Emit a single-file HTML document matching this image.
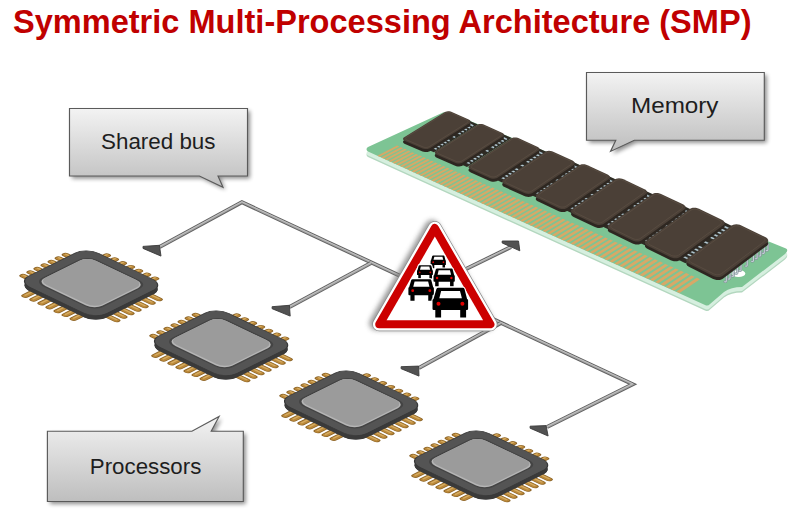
<!DOCTYPE html>
<html><head><meta charset="utf-8"><style>
html,body{margin:0;padding:0;background:#fff;width:796px;height:520px;overflow:hidden}
svg{position:absolute;left:0;top:0}
.title{font-family:"Liberation Sans",sans-serif;font-weight:bold;fill:#c00000;font-size:32.5px}
.ct{font-family:"Liberation Sans",sans-serif;fill:#1e1e1e;font-size:21.5px}
</style></head><body>
<svg width="796" height="520" viewBox="0 0 796 520">
<defs>
<linearGradient id="cg" x1="0" y1="0" x2="0" y2="1"><stop offset="0" stop-color="#f3f3f3"/><stop offset="1" stop-color="#bebebe"/></linearGradient>
<filter id="shadow" x="-20%" y="-20%" width="140%" height="160%"><feGaussianBlur stdDeviation="2"/></filter>
<filter id="blur3" x="-20%" y="-20%" width="140%" height="140%"><feGaussianBlur stdDeviation="2.5"/></filter>
<g id="cpu">
<g transform="translate(0,4)"><g transform="matrix(0.782,0.373,0.686,-0.340,17.7,281.55)" stroke-linecap="round"><g stroke="#8a6226" stroke-width="7.6"><line x1="2" y1="18.5" x2="-9" y2="18.5"/><line x1="18.5" y1="98" x2="18.5" y2="109"/><line x1="2" y1="28.8" x2="-9" y2="28.8"/><line x1="28.8" y1="98" x2="28.8" y2="109"/><line x1="2" y1="39.1" x2="-9" y2="39.1"/><line x1="39.1" y1="98" x2="39.1" y2="109"/><line x1="2" y1="49.400000000000006" x2="-9" y2="49.400000000000006"/><line x1="49.400000000000006" y1="98" x2="49.400000000000006" y2="109"/><line x1="2" y1="59.7" x2="-9" y2="59.7"/><line x1="59.7" y1="98" x2="59.7" y2="109"/><line x1="2" y1="70.0" x2="-9" y2="70.0"/><line x1="70.0" y1="98" x2="70.0" y2="109"/><line x1="2" y1="80.30000000000001" x2="-9" y2="80.30000000000001"/><line x1="80.30000000000001" y1="98" x2="80.30000000000001" y2="109"/></g><g stroke="#bb893a" stroke-width="5.4"><line x1="2" y1="18.5" x2="-9" y2="18.5"/><line x1="18.5" y1="98" x2="18.5" y2="109"/><line x1="2" y1="28.8" x2="-9" y2="28.8"/><line x1="28.8" y1="98" x2="28.8" y2="109"/><line x1="2" y1="39.1" x2="-9" y2="39.1"/><line x1="39.1" y1="98" x2="39.1" y2="109"/><line x1="2" y1="49.400000000000006" x2="-9" y2="49.400000000000006"/><line x1="49.400000000000006" y1="98" x2="49.400000000000006" y2="109"/><line x1="2" y1="59.7" x2="-9" y2="59.7"/><line x1="59.7" y1="98" x2="59.7" y2="109"/><line x1="2" y1="70.0" x2="-9" y2="70.0"/><line x1="70.0" y1="98" x2="70.0" y2="109"/><line x1="2" y1="80.30000000000001" x2="-9" y2="80.30000000000001"/><line x1="80.30000000000001" y1="98" x2="80.30000000000001" y2="109"/></g></g><g transform="translate(0,-0.7)"><g transform="matrix(0.782,0.373,0.686,-0.340,17.7,281.55)" stroke-linecap="round" stroke="#d6ac62" stroke-width="2"><line x1="2" y1="18.5" x2="-9" y2="18.5"/><line x1="18.5" y1="98" x2="18.5" y2="109"/><line x1="2" y1="28.8" x2="-9" y2="28.8"/><line x1="28.8" y1="98" x2="28.8" y2="109"/><line x1="2" y1="39.1" x2="-9" y2="39.1"/><line x1="39.1" y1="98" x2="39.1" y2="109"/><line x1="2" y1="49.400000000000006" x2="-9" y2="49.400000000000006"/><line x1="49.400000000000006" y1="98" x2="49.400000000000006" y2="109"/><line x1="2" y1="59.7" x2="-9" y2="59.7"/><line x1="59.7" y1="98" x2="59.7" y2="109"/><line x1="2" y1="70.0" x2="-9" y2="70.0"/><line x1="70.0" y1="98" x2="70.0" y2="109"/><line x1="2" y1="80.30000000000001" x2="-9" y2="80.30000000000001"/><line x1="80.30000000000001" y1="98" x2="80.30000000000001" y2="109"/></g></g></g>
<g transform="translate(0,4)"><g transform="matrix(0.782,0.373,0.686,-0.340,17.7,281.55)" fill="#383838"><rect x="0" y="0" width="100" height="100" rx="16"/></g></g>
<g transform="translate(0,4)"><g transform="matrix(0.782,0.373,0.686,-0.340,17.7,281.55)" stroke-linecap="round"><g stroke="#8a6226" stroke-width="7.6"><line x1="18.5" y1="2" x2="18.5" y2="-10"/><line x1="98" y1="18.5" x2="110" y2="18.5"/><line x1="28.8" y1="2" x2="28.8" y2="-10"/><line x1="98" y1="28.8" x2="110" y2="28.8"/><line x1="39.1" y1="2" x2="39.1" y2="-10"/><line x1="98" y1="39.1" x2="110" y2="39.1"/><line x1="49.400000000000006" y1="2" x2="49.400000000000006" y2="-10"/><line x1="98" y1="49.400000000000006" x2="110" y2="49.400000000000006"/><line x1="59.7" y1="2" x2="59.7" y2="-10"/><line x1="98" y1="59.7" x2="110" y2="59.7"/><line x1="70.0" y1="2" x2="70.0" y2="-10"/><line x1="98" y1="70.0" x2="110" y2="70.0"/><line x1="80.30000000000001" y1="2" x2="80.30000000000001" y2="-10"/><line x1="98" y1="80.30000000000001" x2="110" y2="80.30000000000001"/></g><g stroke="#bb893a" stroke-width="5.4"><line x1="18.5" y1="2" x2="18.5" y2="-10"/><line x1="98" y1="18.5" x2="110" y2="18.5"/><line x1="28.8" y1="2" x2="28.8" y2="-10"/><line x1="98" y1="28.8" x2="110" y2="28.8"/><line x1="39.1" y1="2" x2="39.1" y2="-10"/><line x1="98" y1="39.1" x2="110" y2="39.1"/><line x1="49.400000000000006" y1="2" x2="49.400000000000006" y2="-10"/><line x1="98" y1="49.400000000000006" x2="110" y2="49.400000000000006"/><line x1="59.7" y1="2" x2="59.7" y2="-10"/><line x1="98" y1="59.7" x2="110" y2="59.7"/><line x1="70.0" y1="2" x2="70.0" y2="-10"/><line x1="98" y1="70.0" x2="110" y2="70.0"/><line x1="80.30000000000001" y1="2" x2="80.30000000000001" y2="-10"/><line x1="98" y1="80.30000000000001" x2="110" y2="80.30000000000001"/></g></g><g transform="translate(0,-0.7)"><g transform="matrix(0.782,0.373,0.686,-0.340,17.7,281.55)" stroke-linecap="round" stroke="#d6ac62" stroke-width="2"><line x1="18.5" y1="2" x2="18.5" y2="-10"/><line x1="98" y1="18.5" x2="110" y2="18.5"/><line x1="28.8" y1="2" x2="28.8" y2="-10"/><line x1="98" y1="28.8" x2="110" y2="28.8"/><line x1="39.1" y1="2" x2="39.1" y2="-10"/><line x1="98" y1="39.1" x2="110" y2="39.1"/><line x1="49.400000000000006" y1="2" x2="49.400000000000006" y2="-10"/><line x1="98" y1="49.400000000000006" x2="110" y2="49.400000000000006"/><line x1="59.7" y1="2" x2="59.7" y2="-10"/><line x1="98" y1="59.7" x2="110" y2="59.7"/><line x1="70.0" y1="2" x2="70.0" y2="-10"/><line x1="98" y1="70.0" x2="110" y2="70.0"/><line x1="80.30000000000001" y1="2" x2="80.30000000000001" y2="-10"/><line x1="98" y1="80.30000000000001" x2="110" y2="80.30000000000001"/></g></g></g>
<g transform="translate(0,4)"><g transform="matrix(0.782,0.373,0.686,-0.340,17.7,281.55)" fill="#3a3a3a"><rect x="0" y="0" width="100" height="100" rx="16"/></g></g>
<g transform="matrix(0.782,0.373,0.686,-0.340,17.7,281.55)"><g fill="#545454" stroke="#383838" stroke-width="1.2"><rect x="0" y="0" width="100" height="100" rx="16"/></g><g fill="#444"><rect x="11" y="11" width="78" height="78" rx="12"/></g><g fill="#b5b5b5"><rect x="13" y="13" width="74" height="74" rx="11"/></g><g fill="#9b9b9b"><rect x="13" y="15.5" width="72" height="71.5" rx="10.5"/></g></g>
</g>
</defs>
<text x="13" y="33.2" textLength="738.5" lengthAdjust="spacingAndGlyphs" class="title">Symmetric Multi-Processing Architecture (SMP)</text>
<path d="M368,147 Q365,149 368,151.5 L705,305 Q708,306.5 710,304 L724,292 Q731,287 742,287 L785,254 Q789,250 786,248.5 L449,112.5 Q446,111.5 443,112.5 Z" transform="translate(0,5.5)" fill="#b3d7bf"/>
<path d="M368,147 Q365,149 368,151.5 L705,305 Q708,306.5 710,304 L724,292 Q731,287 742,287 L785,254 Q789,250 786,248.5 L449,112.5 Q446,111.5 443,112.5 Z" transform="translate(0,4)" fill="#d6efdf"/>
<path d="M368,147 Q365,149 368,151.5 L705,305 Q708,306.5 710,304 L724,292 Q731,287 742,287 L785,254 Q789,250 786,248.5 L449,112.5 Q446,111.5 443,112.5 Z" fill="#7dc494"/>
<path d="M377.32,155.79 L379.53,156.79 L399.32,146.52 L397.11,145.55Z" fill="#d8a867"/>
<path d="M381.06,157.49 L383.27,158.49 L403.08,148.18 L400.86,147.2Z" fill="#d8a867"/>
<path d="M384.81,159.19 L387.03,160.2 L406.85,149.85 L404.62,148.86Z" fill="#d8a867"/>
<path d="M388.58,160.9 L390.81,161.92 L410.65,151.52 L408.41,150.53Z" fill="#d8a867"/>
<path d="M392.36,162.62 L394.61,163.64 L414.46,153.2 L412.21,152.21Z" fill="#d8a867"/>
<path d="M396.17,164.35 L398.43,165.37 L418.29,154.9 L416.03,153.9Z" fill="#d8a867"/>
<path d="M400,166.09 L402.27,167.12 L422.14,156.6 L419.87,155.59Z" fill="#d8a867"/>
<path d="M403.84,167.83 L406.12,168.87 L426.01,158.3 L423.73,157.29Z" fill="#d8a867"/>
<path d="M407.71,169.59 L410,170.63 L429.9,160.02 L427.6,159.01Z" fill="#d8a867"/>
<path d="M411.59,171.35 L413.89,172.4 L433.81,161.75 L431.5,160.73Z" fill="#d8a867"/>
<path d="M415.5,173.12 L417.81,174.17 L437.74,163.48 L435.42,162.46Z" fill="#d8a867"/>
<path d="M419.42,174.9 L421.75,175.96 L441.69,165.22 L439.36,164.19Z" fill="#d8a867"/>
<path d="M423.36,176.69 L425.7,177.76 L445.66,166.97 L443.31,165.94Z" fill="#d8a867"/>
<path d="M427.33,178.49 L429.68,179.56 L449.65,168.74 L447.29,167.69Z" fill="#d8a867"/>
<path d="M431.31,180.3 L433.68,181.38 L453.66,170.5 L451.29,169.46Z" fill="#d8a867"/>
<path d="M435.32,182.12 L437.69,183.2 L457.69,172.28 L455.31,171.23Z" fill="#d8a867"/>
<path d="M439.34,183.95 L441.73,185.03 L461.74,174.07 L459.34,173.01Z" fill="#d8a867"/>
<path d="M443.39,185.79 L445.79,186.88 L465.81,175.87 L463.4,174.81Z" fill="#d8a867"/>
<path d="M447.46,187.63 L449.87,188.73 L469.9,177.67 L467.48,176.61Z" fill="#d8a867"/>
<path d="M451.55,189.49 L453.97,190.59 L474.01,179.49 L471.58,178.42Z" fill="#d8a867"/>
<path d="M455.66,191.36 L458.09,192.46 L478.15,181.31 L475.7,180.24Z" fill="#d8a867"/>
<path d="M459.79,193.23 L462.24,194.34 L482.3,183.15 L479.85,182.06Z" fill="#d8a867"/>
<path d="M463.94,195.12 L466.41,196.24 L486.48,184.99 L484.01,183.9Z" fill="#d8a867"/>
<path d="M468.12,197.01 L470.59,198.14 L490.68,186.85 L488.2,185.75Z" fill="#d8a867"/>
<path d="M472.32,198.92 L474.8,200.05 L494.9,188.71 L492.41,187.61Z" fill="#d8a867"/>
<path d="M476.53,200.83 L479.04,201.97 L499.15,190.58 L496.64,189.47Z" fill="#d8a867"/>
<path d="M480.78,202.76 L483.29,203.9 L503.41,192.46 L500.89,191.35Z" fill="#d8a867"/>
<path d="M485.04,204.7 L487.57,205.84 L507.7,194.36 L505.17,193.24Z" fill="#d8a867"/>
<path d="M489.33,206.64 L491.87,207.8 L512.01,196.26 L509.46,195.14Z" fill="#d8a867"/>
<path d="M493.64,208.6 L496.19,209.76 L516.34,198.17 L513.78,197.04Z" fill="#d8a867"/>
<path d="M497.97,210.57 L500.54,211.73 L520.7,200.1 L518.13,198.96Z" fill="#d8a867"/>
<path d="M502.33,212.54 L504.91,213.72 L525.08,202.03 L522.49,200.89Z" fill="#d8a867"/>
<path d="M506.71,214.53 L509.3,215.71 L529.48,203.97 L526.88,202.82Z" fill="#d8a867"/>
<path d="M511.11,216.53 L513.72,217.72 L533.91,205.93 L531.29,204.77Z" fill="#d8a867"/>
<path d="M515.54,218.54 L518.16,219.73 L538.36,207.89 L535.73,206.73Z" fill="#d8a867"/>
<path d="M519.99,220.56 L522.63,221.76 L542.84,209.87 L540.19,208.7Z" fill="#d8a867"/>
<path d="M524.46,222.6 L527.12,223.8 L547.34,211.85 L544.68,210.68Z" fill="#d8a867"/>
<path d="M528.96,224.64 L531.63,225.85 L551.86,213.85 L549.18,212.67Z" fill="#d8a867"/>
<path d="M533.49,226.69 L536.17,227.91 L556.41,215.85 L553.72,214.67Z" fill="#d8a867"/>
<path d="M538.04,228.76 L540.74,229.98 L560.98,217.87 L558.28,216.68Z" fill="#d8a867"/>
<path d="M542.61,230.83 L545.33,232.07 L565.58,219.9 L562.86,218.7Z" fill="#d8a867"/>
<path d="M547.21,232.92 L549.94,234.16 L570.2,221.94 L567.47,220.74Z" fill="#d8a867"/>
<path d="M551.84,235.02 L554.58,236.27 L574.85,223.99 L572.1,222.78Z" fill="#d8a867"/>
<path d="M556.49,237.13 L559.25,238.39 L579.52,226.06 L576.76,224.84Z" fill="#d8a867"/>
<path d="M561.17,239.26 L563.94,240.52 L584.22,228.13 L581.44,226.9Z" fill="#d8a867"/>
<path d="M565.87,241.39 L568.66,242.66 L588.94,230.22 L586.15,228.98Z" fill="#d8a867"/>
<path d="M570.6,243.54 L573.4,244.81 L593.7,232.31 L590.89,231.07Z" fill="#d8a867"/>
<path d="M575.35,245.7 L578.17,246.98 L598.47,234.42 L595.65,233.17Z" fill="#d8a867"/>
<path d="M580.14,247.87 L582.97,249.16 L603.28,236.54 L600.44,235.29Z" fill="#d8a867"/>
<path d="M584.95,250.05 L587.8,251.35 L608.11,238.67 L605.25,237.41Z" fill="#d8a867"/>
<path d="M589.78,252.25 L592.65,253.55 L612.97,240.82 L610.1,239.55Z" fill="#d8a867"/>
<path d="M594.65,254.46 L597.53,255.77 L617.85,242.98 L614.96,241.7Z" fill="#d8a867"/>
<path d="M599.54,256.68 L602.44,258 L622.77,245.14 L619.86,243.86Z" fill="#d8a867"/>
<path d="M604.46,258.91 L607.38,260.24 L627.71,247.32 L624.79,246.04Z" fill="#d8a867"/>
<path d="M609.41,261.16 L612.34,262.49 L632.68,249.52 L629.74,248.22Z" fill="#d8a867"/>
<path d="M614.38,263.42 L617.33,264.76 L637.67,251.72 L634.72,250.42Z" fill="#d8a867"/>
<path d="M619.39,265.69 L622.36,267.04 L642.7,253.94 L639.73,252.63Z" fill="#d8a867"/>
<path d="M624.42,267.98 L627.41,269.33 L647.75,256.17 L644.77,254.85Z" fill="#d8a867"/>
<path d="M629.48,270.27 L632.49,271.64 L652.84,258.42 L649.83,257.09Z" fill="#d8a867"/>
<path d="M634.58,272.59 L637.6,273.96 L657.95,260.67 L654.93,259.34Z" fill="#d8a867"/>
<path d="M639.7,274.91 L642.74,276.29 L663.09,262.94 L660.05,261.6Z" fill="#d8a867"/>
<path d="M644.85,277.25 L647.91,278.64 L668.27,265.23 L665.21,263.88Z" fill="#d8a867"/>
<path d="M650.03,279.6 L653.11,281 L673.47,267.52 L670.39,266.16Z" fill="#d8a867"/>
<path d="M655.24,281.97 L658.34,283.37 L678.7,269.83 L675.61,268.47Z" fill="#d8a867"/>
<path d="M660.49,284.35 L663.6,285.76 L683.96,272.15 L680.85,270.78Z" fill="#d8a867"/>
<path d="M665.76,286.74 L668.89,288.17 L689.26,274.49 L686.13,273.11Z" fill="#d8a867"/>
<path d="M671.07,289.15 L674.21,290.58 L694.58,276.84 L691.43,275.45Z" fill="#d8a867"/>
<path d="M676.4,291.58 L679.57,293.01 L699.94,279.2 L696.77,277.81Z" fill="#d8a867"/>
<ellipse cx="738.5" cy="273.5" rx="6.8" ry="3.6" fill="#fff"/>
<path d="M424.98,148.52 L469.24,120.68 L477.84,124.49 L433.91,152.33Z" fill="#2e2b24"/>
<path d="M432.78,147.38 L436.09,148.79 M436.05,145.32 L439.35,146.73 M439.31,143.26 L442.6,144.67 M442.56,141.21 L445.84,142.62 M445.8,139.17 L449.07,140.58 M451.33,135.68 L454.58,137.09 M456.83,132.21 L460.06,133.62 M460.02,130.2 L463.25,131.61 M463.2,128.19 L466.42,129.6 M466.37,126.19 L469.58,127.6 M469.53,124.19 L472.73,125.61" stroke="#56646a" stroke-width="2.1" stroke-linecap="round"/>
<path d="M432.78,147.38 L436.09,148.79 M436.05,145.32 L439.35,146.73 M439.31,143.26 L442.6,144.67 M442.56,141.21 L445.84,142.62 M445.8,139.17 L449.07,140.58 M451.33,135.68 L454.58,137.09 M456.83,132.21 L460.06,133.62 M460.02,130.2 L463.25,131.61 M463.2,128.19 L466.42,129.6 M466.37,126.19 L469.58,127.6 M469.53,124.19 L472.73,125.61" stroke="#b6c9d0" stroke-width="1.3" stroke-linecap="round"/>
<path d="M468.66,122.45 L469.57,122.97 L470.21,123.59 L470.52,124.27 L470.5,124.96 L470.13,125.61 L469.45,126.19 L429.89,151.13 L428.9,151.6 L427.7,151.93 L426.37,152.08 L425,152.05 L423.68,151.83 L422.5,151.45 L404.96,143.97 L404,143.44 L403.33,142.81 L403,142.11 L403.04,141.4 L403.43,140.72 L404.16,140.13 L444.58,115.19 L445.55,114.73 L446.73,114.43 L448.03,114.3 L449.37,114.35 L450.65,114.58 L451.8,114.97Z" fill="#2e2721"/>
<path d="M468.66,119.45 L469.57,119.97 L470.21,120.59 L470.52,121.27 L470.5,121.96 L470.13,122.61 L469.45,123.19 L429.89,148.13 L428.9,148.6 L427.7,148.93 L426.37,149.08 L425,149.05 L423.68,148.83 L422.5,148.45 L404.96,140.97 L404,140.44 L403.33,139.81 L403,139.11 L403.04,138.4 L403.43,137.72 L404.16,137.13 L444.58,112.19 L445.55,111.73 L446.73,111.43 L448.03,111.3 L449.37,111.35 L450.65,111.58 L451.8,111.97Z" fill="#4b4037"/>
<path d="M466.55,119.72 L467.28,120.15 L467.79,120.66 L468.02,121.23 L467.97,121.81 L467.64,122.36 L467.04,122.85 L429.28,146.62 L428.44,147.03 L427.42,147.32 L426.31,147.46 L425.17,147.45 L424.09,147.29 L423.13,146.98 L407.15,140.16 L406.38,139.72 L405.85,139.2 L405.61,138.62 L405.67,138.02 L406.03,137.45 L406.66,136.94 L445.14,113.17 L445.97,112.77 L446.96,112.51 L448.05,112.38 L449.16,112.41 L450.22,112.59 L451.15,112.9Z" fill="none" stroke="#5a4e43" stroke-width="0.8"/>
<path d="M457.67,162.84 L502.56,133.92 L511.58,137.98 L466.98,166.91Z" fill="#2e2b24"/>
<path d="M465.68,161.7 L469.13,163.22 M468.99,159.56 L472.43,161.07 M472.3,157.43 L475.73,158.94 M475.59,155.3 L479.02,156.81 M478.88,153.18 L482.29,154.69 M484.49,149.56 L487.89,151.07 M490.07,145.95 L493.45,147.46 M493.31,143.86 L496.69,145.37 M496.54,141.77 L499.91,143.28 M499.76,139.69 L503.12,141.2 M502.97,137.62 L506.33,139.12" stroke="#56646a" stroke-width="2.1" stroke-linecap="round"/>
<path d="M465.68,161.7 L469.13,163.22 M468.99,159.56 L472.43,161.07 M472.3,157.43 L475.73,158.94 M475.59,155.3 L479.02,156.81 M478.88,153.18 L482.29,154.69 M484.49,149.56 L487.89,151.07 M490.07,145.95 L493.45,147.46 M493.31,143.86 L496.69,145.37 M496.54,141.77 L499.91,143.28 M499.76,139.69 L503.12,141.2 M502.97,137.62 L506.33,139.12" stroke="#b6c9d0" stroke-width="1.3" stroke-linecap="round"/>
<path d="M501.93,135.64 L502.89,136.19 L503.56,136.84 L503.91,137.56 L503.9,138.28 L503.54,138.96 L502.85,139.56 L462.72,165.47 L461.71,165.96 L460.48,166.29 L459.11,166.44 L457.7,166.4 L456.33,166.16 L455.11,165.75 L436.87,157.78 L435.87,157.21 L435.17,156.54 L434.81,155.81 L434.83,155.07 L435.22,154.36 L435.95,153.74 L476.85,127.88 L477.84,127.41 L479.04,127.1 L480.38,126.98 L481.76,127.04 L483.1,127.28 L484.29,127.7Z" fill="#2e2721"/>
<path d="M501.93,132.64 L502.89,133.19 L503.56,133.84 L503.91,134.56 L503.9,135.28 L503.54,135.96 L502.85,136.56 L462.72,162.47 L461.71,162.96 L460.48,163.29 L459.11,163.44 L457.7,163.4 L456.33,163.16 L455.11,162.75 L436.87,154.78 L435.87,154.21 L435.17,153.54 L434.81,152.81 L434.83,152.07 L435.22,151.36 L435.95,150.74 L476.85,124.88 L477.84,124.41 L479.04,124.1 L480.38,123.98 L481.76,124.04 L483.1,124.28 L484.29,124.7Z" fill="#4b4037"/>
<path d="M499.75,132.91 L500.52,133.36 L501.06,133.9 L501.32,134.5 L501.28,135.1 L500.96,135.68 L500.36,136.19 L462.04,160.88 L461.19,161.31 L460.15,161.6 L459.01,161.74 L457.84,161.72 L456.72,161.54 L455.72,161.21 L439.1,153.94 L438.3,153.48 L437.74,152.92 L437.48,152.31 L437.52,151.69 L437.87,151.09 L438.51,150.56 L477.46,125.91 L478.3,125.51 L479.31,125.23 L480.43,125.11 L481.58,125.14 L482.67,125.34 L483.65,125.67Z" fill="none" stroke="#5a4e43" stroke-width="0.8"/>
<path d="M492.39,178.05 L537.96,148 L547.42,152.31 L502.11,182.4Z" fill="#2e2b24"/>
<path d="M500.62,176.92 L504.22,178.54 M503.98,174.7 L507.58,176.31 M507.34,172.48 L510.92,174.09 M510.68,170.27 L514.26,171.88 M514.01,168.06 L517.59,169.67 M519.71,164.3 L523.27,165.91 M525.37,160.55 L528.92,162.16 M528.67,158.37 L532.21,159.98 M531.95,156.2 L535.48,157.81 M535.22,154.04 L538.75,155.64 M538.49,151.88 L542.01,153.48" stroke="#56646a" stroke-width="2.1" stroke-linecap="round"/>
<path d="M500.62,176.92 L504.22,178.54 M503.98,174.7 L507.58,176.31 M507.34,172.48 L510.92,174.09 M510.68,170.27 L514.26,171.88 M514.01,168.06 L517.59,169.67 M519.71,164.3 L523.27,165.91 M525.37,160.55 L528.92,162.16 M528.67,158.37 L532.21,159.98 M531.95,156.2 L535.48,157.81 M535.22,154.04 L538.75,155.64 M538.49,151.88 L542.01,153.48" stroke="#b6c9d0" stroke-width="1.3" stroke-linecap="round"/>
<path d="M537.26,149.64 L538.27,150.23 L538.99,150.92 L539.37,151.67 L539.38,152.43 L539.03,153.14 L538.34,153.77 L497.58,180.7 L496.56,181.21 L495.3,181.55 L493.89,181.69 L492.43,181.63 L491.02,181.38 L489.75,180.94 L470.76,172.43 L469.72,171.84 L468.98,171.13 L468.6,170.36 L468.59,169.58 L468.97,168.84 L469.71,168.2 L511.12,141.37 L512.13,140.88 L513.36,140.57 L514.74,140.44 L516.17,140.51 L517.55,140.78 L518.79,141.22Z" fill="#2e2721"/>
<path d="M537.26,146.64 L538.27,147.23 L538.99,147.92 L539.37,148.67 L539.38,149.43 L539.03,150.14 L538.34,150.77 L497.58,177.7 L496.56,178.21 L495.3,178.55 L493.89,178.69 L492.43,178.63 L491.02,178.38 L489.75,177.94 L470.76,169.43 L469.72,168.84 L468.98,168.13 L468.6,167.36 L468.59,166.58 L468.97,165.84 L469.71,165.2 L511.12,138.37 L512.13,137.88 L513.36,137.57 L514.74,137.44 L516.17,137.51 L517.55,137.78 L518.79,138.22Z" fill="#4b4037"/>
<path d="M535.01,146.91 L535.83,147.39 L536.4,147.96 L536.69,148.59 L536.67,149.23 L536.34,149.83 L535.74,150.36 L496.85,176.03 L495.97,176.47 L494.92,176.77 L493.74,176.91 L492.53,176.87 L491.37,176.68 L490.33,176.32 L473.03,168.57 L472.19,168.08 L471.61,167.5 L471.32,166.86 L471.35,166.2 L471.7,165.58 L472.33,165.03 L511.78,139.45 L512.64,139.03 L513.67,138.75 L514.83,138.63 L516.01,138.67 L517.15,138.88 L518.16,139.23Z" fill="none" stroke="#5a4e43" stroke-width="0.8"/>
<path d="M527.01,193.21 L573.24,162.03 L583.15,166.6 L537.13,197.84Z" fill="#2e2b24"/>
<path d="M535.46,192.09 L539.21,193.81 M538.87,189.78 L542.61,191.5 M542.27,187.48 L546.01,189.2 M545.66,185.19 L549.4,186.9 M549.04,182.9 L552.77,184.62 M554.82,178.99 L558.54,180.7 M560.58,175.1 L564.29,176.81 M563.92,172.84 L567.62,174.55 M567.26,170.59 L570.95,172.29 M570.58,168.34 L574.27,170.04 M573.9,166.09 L577.59,167.8" stroke="#56646a" stroke-width="2.1" stroke-linecap="round"/>
<path d="M535.46,192.09 L539.21,193.81 M538.87,189.78 L542.61,191.5 M542.27,187.48 L546.01,189.2 M545.66,185.19 L549.4,186.9 M549.04,182.9 L552.77,184.62 M554.82,178.99 L558.54,180.7 M560.58,175.1 L564.29,176.81 M563.92,172.84 L567.62,174.55 M567.26,170.59 L570.95,172.29 M570.58,168.34 L574.27,170.04 M573.9,166.09 L577.59,167.8" stroke="#b6c9d0" stroke-width="1.3" stroke-linecap="round"/>
<path d="M572.49,163.6 L573.55,164.22 L574.31,164.95 L574.73,165.74 L574.76,166.53 L574.42,167.28 L573.71,167.93 L532.35,195.88 L531.3,196.41 L530.02,196.76 L528.57,196.9 L527.06,196.83 L525.6,196.55 L524.29,196.08 L504.55,187.05 L503.47,186.42 L502.69,185.68 L502.28,184.87 L502.26,184.05 L502.63,183.29 L503.37,182.62 L545.3,154.82 L546.32,154.31 L547.58,153.99 L549,153.86 L550.48,153.94 L551.91,154.23 L553.2,154.69Z" fill="#2e2721"/>
<path d="M572.49,160.6 L573.55,161.22 L574.31,161.95 L574.73,162.74 L574.76,163.53 L574.42,164.28 L573.71,164.93 L532.35,192.88 L531.3,193.41 L530.02,193.76 L528.57,193.9 L527.06,193.83 L525.6,193.55 L524.29,193.08 L504.55,184.05 L503.47,183.42 L502.69,182.68 L502.28,181.87 L502.26,181.05 L502.63,180.29 L503.37,179.62 L545.3,151.82 L546.32,151.31 L547.58,150.99 L549,150.86 L550.48,150.94 L551.91,151.23 L553.2,151.69Z" fill="#4b4037"/>
<path d="M570.17,160.88 L571.03,161.38 L571.64,161.98 L571.95,162.64 L571.94,163.31 L571.63,163.94 L571.02,164.49 L531.55,191.13 L530.66,191.58 L529.57,191.89 L528.37,192.03 L527.12,191.99 L525.92,191.77 L524.85,191.39 L506.87,183.16 L505.99,182.65 L505.38,182.03 L505.07,181.36 L505.08,180.68 L505.42,180.03 L506.06,179.46 L546,152.95 L546.87,152.52 L547.94,152.23 L549.12,152.1 L550.34,152.15 L551.52,152.37 L552.57,152.75Z" fill="none" stroke="#5a4e43" stroke-width="0.8"/>
<path d="M561.52,208.33 L608.43,176.01 L618.78,180.85 L572.05,213.24Z" fill="#2e2b24"/>
<path d="M570.19,207.22 L574.1,209.04 M573.65,204.83 L577.55,206.65 M577.1,202.45 L580.99,204.27 M580.54,200.07 L584.43,201.89 M583.97,197.7 L587.86,199.51 M589.84,193.65 L593.71,195.46 M595.68,189.62 L599.55,191.42 M599.07,187.27 L602.94,189.08 M602.46,184.93 L606.32,186.73 M605.84,182.6 L609.69,184.4 M609.21,180.27 L613.06,182.07" stroke="#56646a" stroke-width="2.1" stroke-linecap="round"/>
<path d="M570.19,207.22 L574.1,209.04 M573.65,204.83 L577.55,206.65 M577.1,202.45 L580.99,204.27 M580.54,200.07 L584.43,201.89 M583.97,197.7 L587.86,199.51 M589.84,193.65 L593.71,195.46 M595.68,189.62 L599.55,191.42 M599.07,187.27 L602.94,189.08 M602.46,184.93 L606.32,186.73 M605.84,182.6 L609.69,184.4 M609.21,180.27 L613.06,182.07" stroke="#b6c9d0" stroke-width="1.3" stroke-linecap="round"/>
<path d="M607.62,177.52 L608.73,178.18 L609.53,178.94 L609.98,179.77 L610.03,180.6 L609.7,181.38 L608.99,182.05 L567.01,211.02 L565.95,211.57 L564.63,211.92 L563.14,212.06 L561.59,211.98 L560.09,211.67 L558.72,211.17 L538.24,201.62 L537.12,200.96 L536.31,200.18 L535.87,199.33 L535.83,198.48 L536.19,197.69 L536.94,196.99 L579.37,168.23 L580.41,167.7 L581.71,167.37 L583.16,167.24 L584.68,167.34 L586.16,167.64 L587.5,168.13Z" fill="#2e2721"/>
<path d="M607.62,174.52 L608.73,175.18 L609.53,175.94 L609.98,176.77 L610.03,177.6 L609.7,178.38 L608.99,179.05 L567.01,208.02 L565.95,208.57 L564.63,208.92 L563.14,209.06 L561.59,208.98 L560.09,208.67 L558.72,208.17 L538.24,198.62 L537.12,197.96 L536.31,197.18 L535.87,196.33 L535.83,195.48 L536.19,194.69 L536.94,193.99 L579.37,165.23 L580.41,164.7 L581.71,164.37 L583.16,164.24 L584.68,164.34 L586.16,164.64 L587.5,165.13Z" fill="#4b4037"/>
<path d="M605.23,174.8 L606.13,175.33 L606.77,175.96 L607.11,176.65 L607.12,177.35 L606.81,178.01 L606.19,178.58 L566.14,206.19 L565.24,206.66 L564.13,206.97 L562.9,207.1 L561.61,207.05 L560.37,206.82 L559.26,206.41 L540.6,197.71 L539.69,197.17 L539.05,196.52 L538.71,195.82 L538.71,195.11 L539.05,194.44 L539.69,193.85 L580.12,166.41 L581.01,165.96 L582.1,165.66 L583.31,165.54 L584.57,165.6 L585.79,165.83 L586.88,166.23Z" fill="none" stroke="#5a4e43" stroke-width="0.8"/>
<path d="M597.76,224.21 L645.38,190.7 L656.2,195.81 L608.72,229.42Z" fill="#2e2b24"/>
<path d="M606.66,223.1 L610.73,225.03 M610.17,220.63 L614.23,222.56 M613.67,218.16 L617.73,220.08 M617.16,215.7 L621.22,217.62 M620.65,213.24 L624.7,215.16 M626.6,209.04 L630.65,210.96 M632.53,204.86 L636.57,206.77 M635.98,202.42 L640.02,204.33 M639.42,200 L643.45,201.9 M642.86,197.57 L646.88,199.48 M646.28,195.16 L650.31,197.06" stroke="#56646a" stroke-width="2.1" stroke-linecap="round"/>
<path d="M606.66,223.1 L610.73,225.03 M610.17,220.63 L614.23,222.56 M613.67,218.16 L617.73,220.08 M617.16,215.7 L621.22,217.62 M620.65,213.24 L624.7,215.16 M626.6,209.04 L630.65,210.96 M632.53,204.86 L636.57,206.77 M635.98,202.42 L640.02,204.33 M639.42,200 L643.45,201.9 M642.86,197.57 L646.88,199.48 M646.28,195.16 L650.31,197.06" stroke="#b6c9d0" stroke-width="1.3" stroke-linecap="round"/>
<path d="M644.5,192.14 L645.66,192.83 L646.51,193.63 L646.99,194.5 L647.07,195.37 L646.74,196.18 L646.02,196.88 L603.4,226.92 L602.32,227.48 L600.97,227.84 L599.45,227.98 L597.85,227.88 L596.29,227.56 L594.88,227.02 L573.62,216.92 L572.45,216.22 L571.6,215.41 L571.13,214.52 L571.07,213.64 L571.43,212.81 L572.18,212.09 L615.15,182.3 L616.21,181.77 L617.53,181.42 L619.03,181.3 L620.6,181.4 L622.13,181.72 L623.52,182.24Z" fill="#2e2721"/>
<path d="M644.5,189.14 L645.66,189.83 L646.51,190.63 L646.99,191.5 L647.07,192.37 L646.74,193.18 L646.02,193.88 L603.4,223.92 L602.32,224.48 L600.97,224.84 L599.45,224.98 L597.85,224.88 L596.29,224.56 L594.88,224.02 L573.62,213.92 L572.45,213.22 L571.6,212.41 L571.13,211.52 L571.07,210.64 L571.43,209.81 L572.18,209.09 L615.15,179.3 L616.21,178.77 L617.53,178.42 L619.03,178.3 L620.6,178.4 L622.13,178.72 L623.52,179.24Z" fill="#4b4037"/>
<path d="M642.04,189.42 L642.98,189.98 L643.66,190.64 L644.02,191.36 L644.05,192.09 L643.75,192.78 L643.13,193.38 L602.47,222 L601.55,222.48 L600.42,222.8 L599.15,222.93 L597.83,222.87 L596.54,222.62 L595.39,222.19 L576.02,212.99 L575.07,212.42 L574.4,211.74 L574.04,211.01 L574.03,210.26 L574.35,209.56 L575,208.95 L615.95,180.55 L616.85,180.08 L617.96,179.77 L619.21,179.65 L620.51,179.72 L621.77,179.97 L622.91,180.39Z" fill="none" stroke="#5a4e43" stroke-width="0.8"/>
<path d="M635.52,240.75 L683.87,206.01 L695.18,211.4 L646.93,246.27Z" fill="#2e2b24"/>
<path d="M644.67,239.65 L648.9,241.7 M648.23,237.09 L652.46,239.13 M651.78,234.53 L656.01,236.57 M655.32,231.98 L659.55,234.01 M658.86,229.43 L663.09,231.46 M664.91,225.08 L669.13,227.1 M670.94,220.74 L675.15,222.76 M674.44,218.21 L678.65,220.23 M677.94,215.69 L682.15,217.71 M681.43,213.18 L685.64,215.19 M684.92,210.67 L689.12,212.68" stroke="#56646a" stroke-width="2.1" stroke-linecap="round"/>
<path d="M644.67,239.65 L648.9,241.7 M648.23,237.09 L652.46,239.13 M651.78,234.53 L656.01,236.57 M655.32,231.98 L659.55,234.01 M658.86,229.43 L663.09,231.46 M664.91,225.08 L669.13,227.1 M670.94,220.74 L675.15,222.76 M674.44,218.21 L678.65,220.23 M677.94,215.69 L682.15,217.71 M681.43,213.18 L685.64,215.19 M684.92,210.67 L689.12,212.68" stroke="#b6c9d0" stroke-width="1.3" stroke-linecap="round"/>
<path d="M682.93,207.37 L684.15,208.09 L685.05,208.94 L685.56,209.84 L685.66,210.75 L685.34,211.6 L684.62,212.34 L641.33,243.49 L640.23,244.07 L638.85,244.44 L637.28,244.57 L635.63,244.46 L634.02,244.1 L632.55,243.54 L610.48,232.87 L609.27,232.13 L608.38,231.27 L607.88,230.35 L607.8,229.43 L608.15,228.56 L608.9,227.82 L652.43,196.97 L653.51,196.42 L654.86,196.06 L656.4,195.94 L658.02,196.05 L659.61,196.39 L661.05,196.94Z" fill="#2e2721"/>
<path d="M682.93,204.37 L684.15,205.09 L685.05,205.94 L685.56,206.84 L685.66,207.75 L685.34,208.6 L684.62,209.34 L641.33,240.49 L640.23,241.07 L638.85,241.44 L637.28,241.57 L635.63,241.46 L634.02,241.1 L632.55,240.54 L610.48,229.87 L609.27,229.13 L608.38,228.27 L607.88,227.35 L607.8,226.43 L608.15,225.56 L608.9,224.82 L652.43,193.97 L653.51,193.42 L654.86,193.06 L656.4,192.94 L658.02,193.05 L659.61,193.39 L661.05,193.94Z" fill="#4b4037"/>
<path d="M680.4,204.65 L681.38,205.24 L682.1,205.94 L682.49,206.69 L682.54,207.45 L682.24,208.17 L681.61,208.79 L640.33,238.47 L639.39,238.97 L638.23,239.3 L636.92,239.43 L635.56,239.36 L634.24,239.08 L633.04,238.63 L612.93,228.9 L611.94,228.3 L611.24,227.6 L610.85,226.83 L610.82,226.05 L611.14,225.32 L611.8,224.69 L653.28,195.27 L654.2,194.79 L655.34,194.48 L656.62,194.35 L657.96,194.43 L659.27,194.69 L660.45,195.14Z" fill="none" stroke="#5a4e43" stroke-width="0.8"/>
<path d="M673.69,257.47 L722.78,221.48 L734.59,227.16 L685.55,263.3Z" fill="#2e2b24"/>
<path d="M683.08,256.38 L687.49,258.54 M686.69,253.73 L691.1,255.88 M690.3,251.08 L694.7,253.23 M693.9,248.44 L698.3,250.58 M697.49,245.8 L701.89,247.94 M703.63,241.29 L708.03,243.42 M709.75,236.79 L714.15,238.92 M713.31,234.17 L717.71,236.3 M716.87,231.56 L721.26,233.68 M720.42,228.95 L724.81,231.07 M723.96,226.35 L728.35,228.46" stroke="#56646a" stroke-width="2.1" stroke-linecap="round"/>
<path d="M683.08,256.38 L687.49,258.54 M686.69,253.73 L691.1,255.88 M690.3,251.08 L694.7,253.23 M693.9,248.44 L698.3,250.58 M697.49,245.8 L701.89,247.94 M703.63,241.29 L708.03,243.42 M709.75,236.79 L714.15,238.92 M713.31,234.17 L717.71,236.3 M716.87,231.56 L721.26,233.68 M720.42,228.95 L724.81,231.07 M723.96,226.35 L728.35,228.46" stroke="#b6c9d0" stroke-width="1.3" stroke-linecap="round"/>
<path d="M721.77,222.77 L723.05,223.53 L723.99,224.41 L724.55,225.36 L724.67,226.31 L724.36,227.19 L723.63,227.95 L679.66,260.24 L678.54,260.83 L677.13,261.21 L675.52,261.34 L673.82,261.21 L672.15,260.83 L670.63,260.23 L647.74,248.98 L646.48,248.21 L645.55,247.31 L645.02,246.35 L644.92,245.38 L645.26,244.49 L646.02,243.72 L690.11,211.8 L691.21,211.23 L692.6,210.86 L694.18,210.74 L695.85,210.86 L697.49,211.23 L698.99,211.8Z" fill="#2e2721"/>
<path d="M721.77,219.77 L723.05,220.53 L723.99,221.41 L724.55,222.36 L724.67,223.31 L724.36,224.19 L723.63,224.95 L679.66,257.24 L678.54,257.83 L677.13,258.21 L675.52,258.34 L673.82,258.21 L672.15,257.83 L670.63,257.23 L647.74,245.98 L646.48,245.21 L645.55,244.31 L645.02,243.35 L644.92,242.38 L645.26,241.49 L646.02,240.72 L690.11,208.8 L691.21,208.23 L692.6,207.86 L694.18,207.74 L695.85,207.86 L697.49,208.23 L698.99,208.8Z" fill="#4b4037"/>
<path d="M719.17,220.04 L720.19,220.66 L720.95,221.39 L721.37,222.18 L721.44,222.98 L721.14,223.73 L720.51,224.37 L678.59,255.12 L677.63,255.64 L676.45,255.97 L675.11,256.1 L673.7,256.02 L672.33,255.72 L671.09,255.24 L650.23,244.99 L649.21,244.36 L648.47,243.62 L648.06,242.82 L648.01,242.01 L648.33,241.26 L648.99,240.6 L691.01,210.16 L691.95,209.66 L693.12,209.34 L694.43,209.21 L695.82,209.29 L697.17,209.58 L698.39,210.04Z" fill="none" stroke="#5a4e43" stroke-width="0.8"/>
<path d="M722.82,274.49 L726.34,275.24 L726.34,280.74 Q726.34,282.24 724.54,281.74 M726.49,271.74 L730.01,272.49 L730.01,277.99 Q730.01,279.49 728.21,278.99 M730.15,268.99 L733.68,269.74 L733.68,275.24 Q733.68,276.74 731.88,276.24 M733.81,266.25 L737.34,267 L737.34,272.5 Q737.34,274 735.54,273.5 M737.46,263.51 L740.99,264.25 L740.99,269.75 Q740.99,271.25 739.19,270.75 M743.71,258.83 L747.23,259.57 L747.23,265.07 Q747.23,266.57 745.43,266.07 M749.94,254.16 L753.46,254.89 L753.46,260.39 Q753.46,261.89 751.66,261.39 M753.56,251.44 L757.09,252.17 L757.09,257.67 Q757.09,259.17 755.29,258.67 M757.18,248.73 L760.71,249.45 L760.71,254.95 Q760.71,256.45 758.91,255.95 M760.8,246.02 L764.32,246.74 L764.32,252.24 Q764.32,253.74 762.52,253.24 M764.41,243.31 L767.93,244.03 L767.93,249.53 Q767.93,251.03 766.13,250.53" fill="none" stroke="#7f8d94" stroke-width="2.2" stroke-linecap="round"/>
<path d="M722.82,274.49 L726.34,275.24 L726.34,280.74 Q726.34,282.24 724.54,281.74 M726.49,271.74 L730.01,272.49 L730.01,277.99 Q730.01,279.49 728.21,278.99 M730.15,268.99 L733.68,269.74 L733.68,275.24 Q733.68,276.74 731.88,276.24 M733.81,266.25 L737.34,267 L737.34,272.5 Q737.34,274 735.54,273.5 M737.46,263.51 L740.99,264.25 L740.99,269.75 Q740.99,271.25 739.19,270.75 M743.71,258.83 L747.23,259.57 L747.23,265.07 Q747.23,266.57 745.43,266.07 M749.94,254.16 L753.46,254.89 L753.46,260.39 Q753.46,261.89 751.66,261.39 M753.56,251.44 L757.09,252.17 L757.09,257.67 Q757.09,259.17 755.29,258.67 M757.18,248.73 L760.71,249.45 L760.71,254.95 Q760.71,256.45 758.91,255.95 M760.8,246.02 L764.32,246.74 L764.32,252.24 Q764.32,253.74 762.52,253.24 M764.41,243.31 L767.93,244.03 L767.93,249.53 Q767.93,251.03 766.13,250.53" fill="none" stroke="#c3d0d6" stroke-width="1.1" stroke-linecap="round"/>
<path d="M765.16,239.96 L766.5,240.76 L767.5,241.69 L768.09,242.69 L768.24,243.68 L767.94,244.61 L767.2,245.4 L722.48,278.94 L721.34,279.56 L719.88,279.94 L718.23,280.07 L716.47,279.92 L714.75,279.52 L713.16,278.88 L689.36,266.98 L688.05,266.17 L687.07,265.22 L686.51,264.22 L686.38,263.21 L686.72,262.28 L687.48,261.48 L732.2,228.37 L733.32,227.77 L734.74,227.39 L736.37,227.27 L738.1,227.41 L739.8,227.79 L741.36,228.4Z" fill="#2e2721"/>
<path d="M765.16,236.96 L766.5,237.76 L767.5,238.69 L768.09,239.69 L768.24,240.68 L767.94,241.61 L767.2,242.4 L722.48,275.94 L721.34,276.56 L719.88,276.94 L718.23,277.07 L716.47,276.92 L714.75,276.52 L713.16,275.88 L689.36,263.98 L688.05,263.17 L687.07,262.22 L686.51,261.22 L686.38,260.21 L686.72,259.28 L687.48,258.48 L732.2,225.37 L733.32,224.77 L734.74,224.39 L736.37,224.27 L738.1,224.41 L739.8,224.79 L741.36,225.4Z" fill="#4b4037"/>
<path d="M762.47,237.24 L763.55,237.89 L764.34,238.66 L764.8,239.49 L764.89,240.32 L764.6,241.1 L763.96,241.78 L721.32,273.73 L720.35,274.26 L719.14,274.6 L717.75,274.73 L716.31,274.63 L714.89,274.31 L713.6,273.8 L691.9,262.96 L690.84,262.3 L690.06,261.52 L689.62,260.68 L689.56,259.84 L689.87,259.05 L690.53,258.37 L733.16,226.78 L734.12,226.27 L735.31,225.93 L736.67,225.81 L738.1,225.9 L739.5,226.2 L740.77,226.69Z" fill="none" stroke="#5a4e43" stroke-width="0.8"/>
<path d="M159.5,247 L241.9,202.2 L632.7,384.2 L547,427" fill="none" stroke="#626262" stroke-width="4" stroke-linejoin="miter"/><path d="M159.5,247 L241.9,202.2 L632.7,384.2 L547,427" fill="none" stroke="#a5a5a5" stroke-width="2" stroke-linejoin="miter"/><path d="M159.5,247 L241.9,202.2 L632.7,384.2 L547,427" transform="translate(0,-0.5)" fill="none" stroke="#cfcfcf" stroke-width="0.7" stroke-linejoin="miter"/>
<path d="M289.5,307 L371,263" fill="none" stroke="#626262" stroke-width="4" stroke-linejoin="miter"/><path d="M289.5,307 L371,263" fill="none" stroke="#a5a5a5" stroke-width="2" stroke-linejoin="miter"/><path d="M289.5,307 L371,263" transform="translate(0,-0.5)" fill="none" stroke="#cfcfcf" stroke-width="0.7" stroke-linejoin="miter"/>
<path d="M418.8,368 L501,322.9" fill="none" stroke="#626262" stroke-width="4" stroke-linejoin="miter"/><path d="M418.8,368 L501,322.9" fill="none" stroke="#a5a5a5" stroke-width="2" stroke-linejoin="miter"/><path d="M418.8,368 L501,322.9" transform="translate(0,-0.5)" fill="none" stroke="#cfcfcf" stroke-width="0.7" stroke-linejoin="miter"/>
<path d="M466,269 L511,247" fill="none" stroke="#626262" stroke-width="4" stroke-linejoin="miter"/><path d="M466,269 L511,247" fill="none" stroke="#a5a5a5" stroke-width="2" stroke-linejoin="miter"/><path d="M466,269 L511,247" transform="translate(0,-0.5)" fill="none" stroke="#cfcfcf" stroke-width="0.7" stroke-linejoin="miter"/>
<path d="M143,246.4 L159.4,245.3 L161,256.1 L143,248.4Z" fill="#525252" stroke="#3a3a3a" stroke-width="0.9" stroke-linejoin="round"/>
<path d="M272.1,306.7 L289.4,305.3 L290.2,316.1 L272.1,308.7Z" fill="#525252" stroke="#3a3a3a" stroke-width="0.9" stroke-linejoin="round"/>
<path d="M401.1,366.7 L418.6,366.1 L419,376.1 L401.1,368.7Z" fill="#525252" stroke="#3a3a3a" stroke-width="0.9" stroke-linejoin="round"/>
<path d="M530.1,426.2 L546.1,425.6 L548.1,436 L530.1,428.2Z" fill="#525252" stroke="#3a3a3a" stroke-width="0.9" stroke-linejoin="round"/>
<path d="M502.2,241 L518.5,241 L519.8,250.8 L502.2,243Z" fill="#525252" stroke="#3a3a3a" stroke-width="0.9" stroke-linejoin="round"/>
<use href="#cpu"/>
<use href="#cpu" transform="translate(130,60)"/>
<use href="#cpu" transform="translate(260,120)"/>
<use href="#cpu" transform="translate(390,180)"/>
<path d="M434.8,228 L490.4,324.3 L379.2,324.3Z" fill="#777" stroke="#777" stroke-width="14" stroke-linejoin="round" filter="url(#blur3)" transform="translate(-3,-1)" opacity="0.75"/>
<path d="M434.8,228 L490.4,324.3 L379.2,324.3Z" fill="#fff" stroke="#8c8c8c" stroke-width="14" stroke-linejoin="round"/>
<path d="M434.8,228 L490.4,324.3 L379.2,324.3Z" fill="#fff" stroke="#fff" stroke-width="12.6" stroke-linejoin="round"/>
<path d="M434.8,228 L490.4,324.3 L379.2,324.3Z" fill="#cc0000" stroke="#cc0000" stroke-width="8" stroke-linejoin="round"/>
<path d="M434.85,236.6 L483.12,320.2 L386.58,320.2Z" fill="#fff"/>
<g transform="translate(430.6,255.4) scale(0.4298)"><path d="M5.9,0 L30.4,0 Q31.6,0 32,1.2 L34.6,11.1 Q35.6,11.3 35.6,12.5 L35.6,21 Q35.6,22.2 34.4,22.2 L33.6,22.2 L33.6,29.8 L27.7,29.8 L27.7,22.2 L8.6,22.2 L8.6,29.8 L2.8,29.8 L2.8,22.2 L1.2,22.2 Q0,22.2 0,21 L0,12.5 Q0,11.3 1,11.1 L3.9,1.2 Q4.3,0 5.9,0 Z" fill="#000" stroke="#fff" stroke-width="5.12" paint-order="stroke" stroke-linejoin="round"/><path d="M8.6,3.1 L27.5,3.1 L29.4,10.4 L6.8,10.4 Z" fill="#fff"/><circle cx="6" cy="15.9" r="2" fill="#e00000"/><circle cx="29.9" cy="15.9" r="2" fill="#e00000"/></g>
<g transform="translate(417,265.2) scale(0.4466)"><path d="M5.9,0 L30.4,0 Q31.6,0 32,1.2 L34.6,11.1 Q35.6,11.3 35.6,12.5 L35.6,21 Q35.6,22.2 34.4,22.2 L33.6,22.2 L33.6,29.8 L27.7,29.8 L27.7,22.2 L8.6,22.2 L8.6,29.8 L2.8,29.8 L2.8,22.2 L1.2,22.2 Q0,22.2 0,21 L0,12.5 Q0,11.3 1,11.1 L3.9,1.2 Q4.3,0 5.9,0 Z" fill="#000" stroke="#fff" stroke-width="4.93" paint-order="stroke" stroke-linejoin="round"/><path d="M8.6,3.1 L27.5,3.1 L29.4,10.4 L6.8,10.4 Z" fill="#fff"/><circle cx="6" cy="15.9" r="2" fill="#e00000"/><circle cx="29.9" cy="15.9" r="2" fill="#e00000"/></g>
<g transform="translate(433.5,268.5) scale(0.5983)"><path d="M5.9,0 L30.4,0 Q31.6,0 32,1.2 L34.6,11.1 Q35.6,11.3 35.6,12.5 L35.6,21 Q35.6,22.2 34.4,22.2 L33.6,22.2 L33.6,29.8 L27.7,29.8 L27.7,22.2 L8.6,22.2 L8.6,29.8 L2.8,29.8 L2.8,22.2 L1.2,22.2 Q0,22.2 0,21 L0,12.5 Q0,11.3 1,11.1 L3.9,1.2 Q4.3,0 5.9,0 Z" fill="#000" stroke="#fff" stroke-width="3.68" paint-order="stroke" stroke-linejoin="round"/><path d="M8.6,3.1 L27.5,3.1 L29.4,10.4 L6.8,10.4 Z" fill="#fff"/><circle cx="6" cy="15.9" r="2" fill="#e00000"/><circle cx="29.9" cy="15.9" r="2" fill="#e00000"/></g>
<g transform="translate(408.4,279.3) scale(0.7163)"><path d="M5.9,0 L30.4,0 Q31.6,0 32,1.2 L34.6,11.1 Q35.6,11.3 35.6,12.5 L35.6,21 Q35.6,22.2 34.4,22.2 L33.6,22.2 L33.6,29.8 L27.7,29.8 L27.7,22.2 L8.6,22.2 L8.6,29.8 L2.8,29.8 L2.8,22.2 L1.2,22.2 Q0,22.2 0,21 L0,12.5 Q0,11.3 1,11.1 L3.9,1.2 Q4.3,0 5.9,0 Z" fill="#000" stroke="#fff" stroke-width="3.07" paint-order="stroke" stroke-linejoin="round"/><path d="M8.6,3.1 L27.5,3.1 L29.4,10.4 L6.8,10.4 Z" fill="#fff"/><circle cx="6" cy="15.9" r="2" fill="#e00000"/><circle cx="29.9" cy="15.9" r="2" fill="#e00000"/></g>
<g transform="translate(432.5,287.8) scale(1.0000)"><path d="M5.9,0 L30.4,0 Q31.6,0 32,1.2 L34.6,11.1 Q35.6,11.3 35.6,12.5 L35.6,21 Q35.6,22.2 34.4,22.2 L33.6,22.2 L33.6,29.8 L27.7,29.8 L27.7,22.2 L8.6,22.2 L8.6,29.8 L2.8,29.8 L2.8,22.2 L1.2,22.2 Q0,22.2 0,21 L0,12.5 Q0,11.3 1,11.1 L3.9,1.2 Q4.3,0 5.9,0 Z" fill="#000" stroke="#fff" stroke-width="2.20" paint-order="stroke" stroke-linejoin="round"/><path d="M8.6,3.1 L27.5,3.1 L29.4,10.4 L6.8,10.4 Z" fill="#fff"/><circle cx="6" cy="15.9" r="2" fill="#e00000"/><circle cx="29.9" cy="15.9" r="2" fill="#e00000"/></g>
<path d="M69.5,108.5 L247.5,108.5 L247.5,176 L218,176 L223,187.2 L199.4,176 L69.5,176 Z" fill="#000" opacity="0.45" filter="url(#shadow)" transform="translate(2.5,2.5)"/><path d="M69.5,108.5 L247.5,108.5 L247.5,176 L218,176 L223,187.2 L199.4,176 L69.5,176 Z" fill="url(#cg)" stroke="#5a5a5a" stroke-width="1.15"/><text x="101" y="148.6" textLength="114.5" lengthAdjust="spacingAndGlyphs" class="ct">Shared bus</text>
<path d="M586.5,72.5 L764.3,72.5 L764.3,140.2 L634.3,140.2 L610.5,151.4 L615.8,140.2 L586.5,140.2 Z" fill="#000" opacity="0.45" filter="url(#shadow)" transform="translate(2.5,2.5)"/><path d="M586.5,72.5 L764.3,72.5 L764.3,140.2 L634.3,140.2 L610.5,151.4 L615.8,140.2 L586.5,140.2 Z" fill="url(#cg)" stroke="#5a5a5a" stroke-width="1.15"/><text x="631" y="113" textLength="87.5" lengthAdjust="spacingAndGlyphs" class="ct">Memory</text>
<path d="M47.4,431.2 L191.9,431.2 L219.1,416.4 L211.2,431.2 L243.3,431.2 L243.3,501.5 L47.4,501.5 Z" fill="#000" opacity="0.45" filter="url(#shadow)" transform="translate(2.5,2.5)"/><path d="M47.4,431.2 L191.9,431.2 L219.1,416.4 L211.2,431.2 L243.3,431.2 L243.3,501.5 L47.4,501.5 Z" fill="url(#cg)" stroke="#5a5a5a" stroke-width="1.15"/><text x="89.8" y="473.8" textLength="111.5" lengthAdjust="spacingAndGlyphs" class="ct">Processors</text>
</svg>
</body></html>
